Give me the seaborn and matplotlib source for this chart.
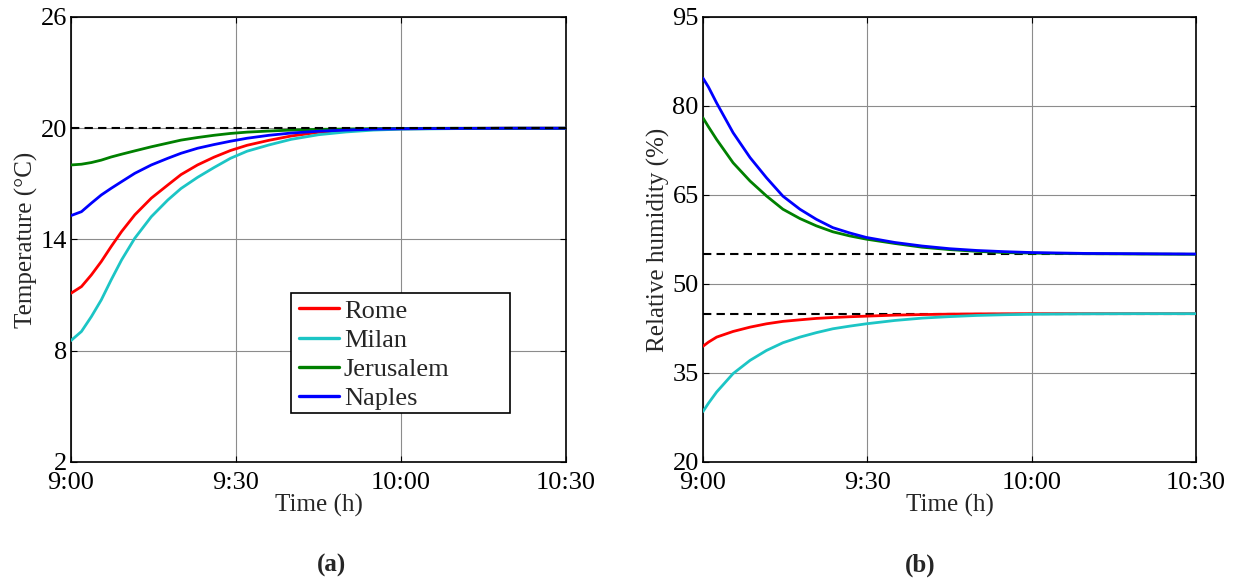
import matplotlib
matplotlib.use("Agg")
import matplotlib.pyplot as plt
from matplotlib.patches import Rectangle
import pandas as pd
import seaborn as sns

cities = ["Rome", "Milan", "Jerusalem", "Naples"]
city_colors = ["#ff0000", "#1cc5c5", "#008000", "#0000ff"]

# Indoor temperature, minutes after 9:00
temp_minutes = [0, 1.9, 3.7, 5.5, 7.3, 9.2, 11.6, 14.6, 17.6, 20, 23, 26, 29, 32, 36, 40, 45, 50, 55, 60, 70, 80, 90]
temp_rome = [11.1, 11.46, 12.09, 12.81, 13.62, 14.43, 15.33, 16.23, 16.94, 17.5, 18.02, 18.44, 18.8,
             19.08, 19.35, 19.58, 19.78, 19.88, 19.94, 19.97, 19.99, 20.0, 20.0]
temp_milan = [8.55, 9.04, 9.84, 10.74, 11.82, 12.9, 14.07, 15.23, 16.13, 16.75, 17.35, 17.88, 18.38,
              18.76, 19.1, 19.4, 19.65, 19.8, 19.9, 19.95, 19.98, 20.0, 20.0]
temp_jerusalem = [18.02, 18.06, 18.15, 18.28, 18.45, 18.6, 18.78, 19.0, 19.2, 19.36, 19.5, 19.62, 19.72,
                  19.79, 19.85, 19.9, 19.94, 19.96, 19.98, 19.99, 20.0, 20.0, 20.0]
temp_naples = [15.29, 15.5, 15.96, 16.4, 16.76, 17.12, 17.57, 18.02, 18.38, 18.65, 18.92, 19.12, 19.3,
               19.46, 19.62, 19.74, 19.84, 19.9, 19.95, 19.97, 19.99, 20.0, 20.0]
temp_setpoint = 20

# Indoor relative humidity, minutes after 9:00
hum_minutes = [0, 1, 2.5, 5.5, 8.6, 11.6, 14.6, 17.7, 20.7, 23.7, 26.8, 29.8, 35, 40, 45, 50, 55, 60, 70, 80, 90]
hum_rome = [39.5, 40.2, 41.05, 42.0, 42.73, 43.29, 43.7, 43.96, 44.2, 44.35, 44.48, 44.58, 44.75,
            44.85, 44.92, 44.96, 44.98, 45.0, 45.0, 45.0, 45.0]
hum_milan = [28.5, 29.9, 31.8, 34.9, 37.13, 38.8, 40.1, 41.05, 41.8, 42.45, 42.9, 43.29, 43.85,
             44.25, 44.5, 44.7, 44.82, 44.9, 44.97, 45.0, 45.0]
hum_jerusalem = [78.0, 76.5, 74.35, 70.43, 67.35, 64.83, 62.6, 61.03, 59.8, 58.8, 58.1, 57.56, 56.83,
                 56.2, 55.8, 55.5, 55.3, 55.2, 55.1, 55.05, 55.0]
hum_naples = [84.7, 83.2, 80.5, 75.5, 71.3, 67.9, 64.8, 62.6, 60.9, 59.5, 58.6, 57.85, 57.0,
              56.4, 55.95, 55.65, 55.45, 55.3, 55.15, 55.1, 55.05]
hum_setpoints = [55, 45]

time_ticks = [0, 30, 60, 90]
time_labels = ["9:00", "9:30", "10:00", "10:30"]
temp_ticks = [2, 8, 14, 20, 26]
hum_ticks = [20, 35, 50, 65, 80, 95]


def long_form(minutes, series):
    frames = []
    for city, values in zip(cities, series):
        frames.append(pd.DataFrame({"minute": minutes, "value": values, "city": city}))
    return pd.concat(frames, ignore_index=True)


temp_df = long_form(temp_minutes, [temp_rome, temp_milan, temp_jerusalem, temp_naples])
hum_df = long_form(hum_minutes, [hum_rome, hum_milan, hum_jerusalem, hum_naples])

sns.set_style("white")
plt.rcParams["font.family"] = ["Liberation Serif", "DejaVu Serif"]

fig = plt.figure(figsize=(12.35, 5.78), dpi=100)
ax_t = fig.add_axes([0.0575, 0.2007, 0.4008, 0.7699])
ax_h = fig.add_axes([0.5692, 0.2007, 0.3992, 0.7699])

palette = dict(zip(cities, city_colors))

for ax, df in ((ax_t, temp_df), (ax_h, hum_df)):
    sns.lineplot(data=df, x="minute", y="value", hue="city", hue_order=cities,
                 palette=palette, estimator=None, sort=False, linewidth=2.0,
                 ax=ax, zorder=3)

ax_t.axhline(temp_setpoint, color="black", linestyle=(0, (4, 2.5)), linewidth=1.5, zorder=4)
for sp in hum_setpoints:
    ax_h.axhline(sp, color="black", linestyle=(0, (4, 2.5)), linewidth=1.5, zorder=2)

for ax, yticks, ylabel in ((ax_t, temp_ticks, "Temperature (°C)"),
                           (ax_h, hum_ticks, "Relative humidity (%)")):
    ax.set_xlim(0, 90)
    ax.set_ylim(yticks[0], yticks[-1])
    ax.set_xticks(time_ticks)
    ax.set_xticklabels(time_labels)
    ax.set_yticks(yticks)
    ax.grid(True, color="#8c8c8c", linewidth=0.8, linestyle="-")
    ax.set_axisbelow(True)
    ax.tick_params(axis="both", direction="in", length=4, width=0.8, labelsize=19,
                   top=True, right=True, bottom=True, left=True, colors="black")
    ax.tick_params(axis="x", pad=7)
    ax.tick_params(axis="y", pad=3)
    for spine in ax.spines.values():
        spine.set_color("black")
        spine.set_linewidth(1.2)
        spine.set_visible(True)
    ax.set_xlabel("Time (h)", fontsize=18, labelpad=0)
    ax.set_ylabel(ylabel, fontsize=18, labelpad=2)

ax_h.get_legend().remove()

# Legend box with extra room on the right
frame = Rectangle((0.4444, 0.1101), 0.4424, 0.2697, transform=ax_t.transAxes,
                  facecolor="white", edgecolor="black", linewidth=1.2, zorder=5)
ax_t.add_patch(frame)
leg = ax_t.legend(loc="upper left", bbox_to_anchor=(0.4606, 0.366), fontsize=19,
                  handlelength=1.5, handletextpad=0.2, labelspacing=0.22,
                  borderpad=0, borderaxespad=0, frameon=False)
leg.set_zorder(6)
for line in leg.get_lines():
    line.set_linewidth(2.4)

fig.text(331 / 1235, 1 - 565 / 578, "(a)", ha="center", va="center", fontsize=18, fontweight="bold")
fig.text(920 / 1235, 1 - 565 / 578, "(b)", ha="center", va="center", fontsize=18, fontweight="bold")

fig.savefig("out.png", dpi=100, facecolor="white")
